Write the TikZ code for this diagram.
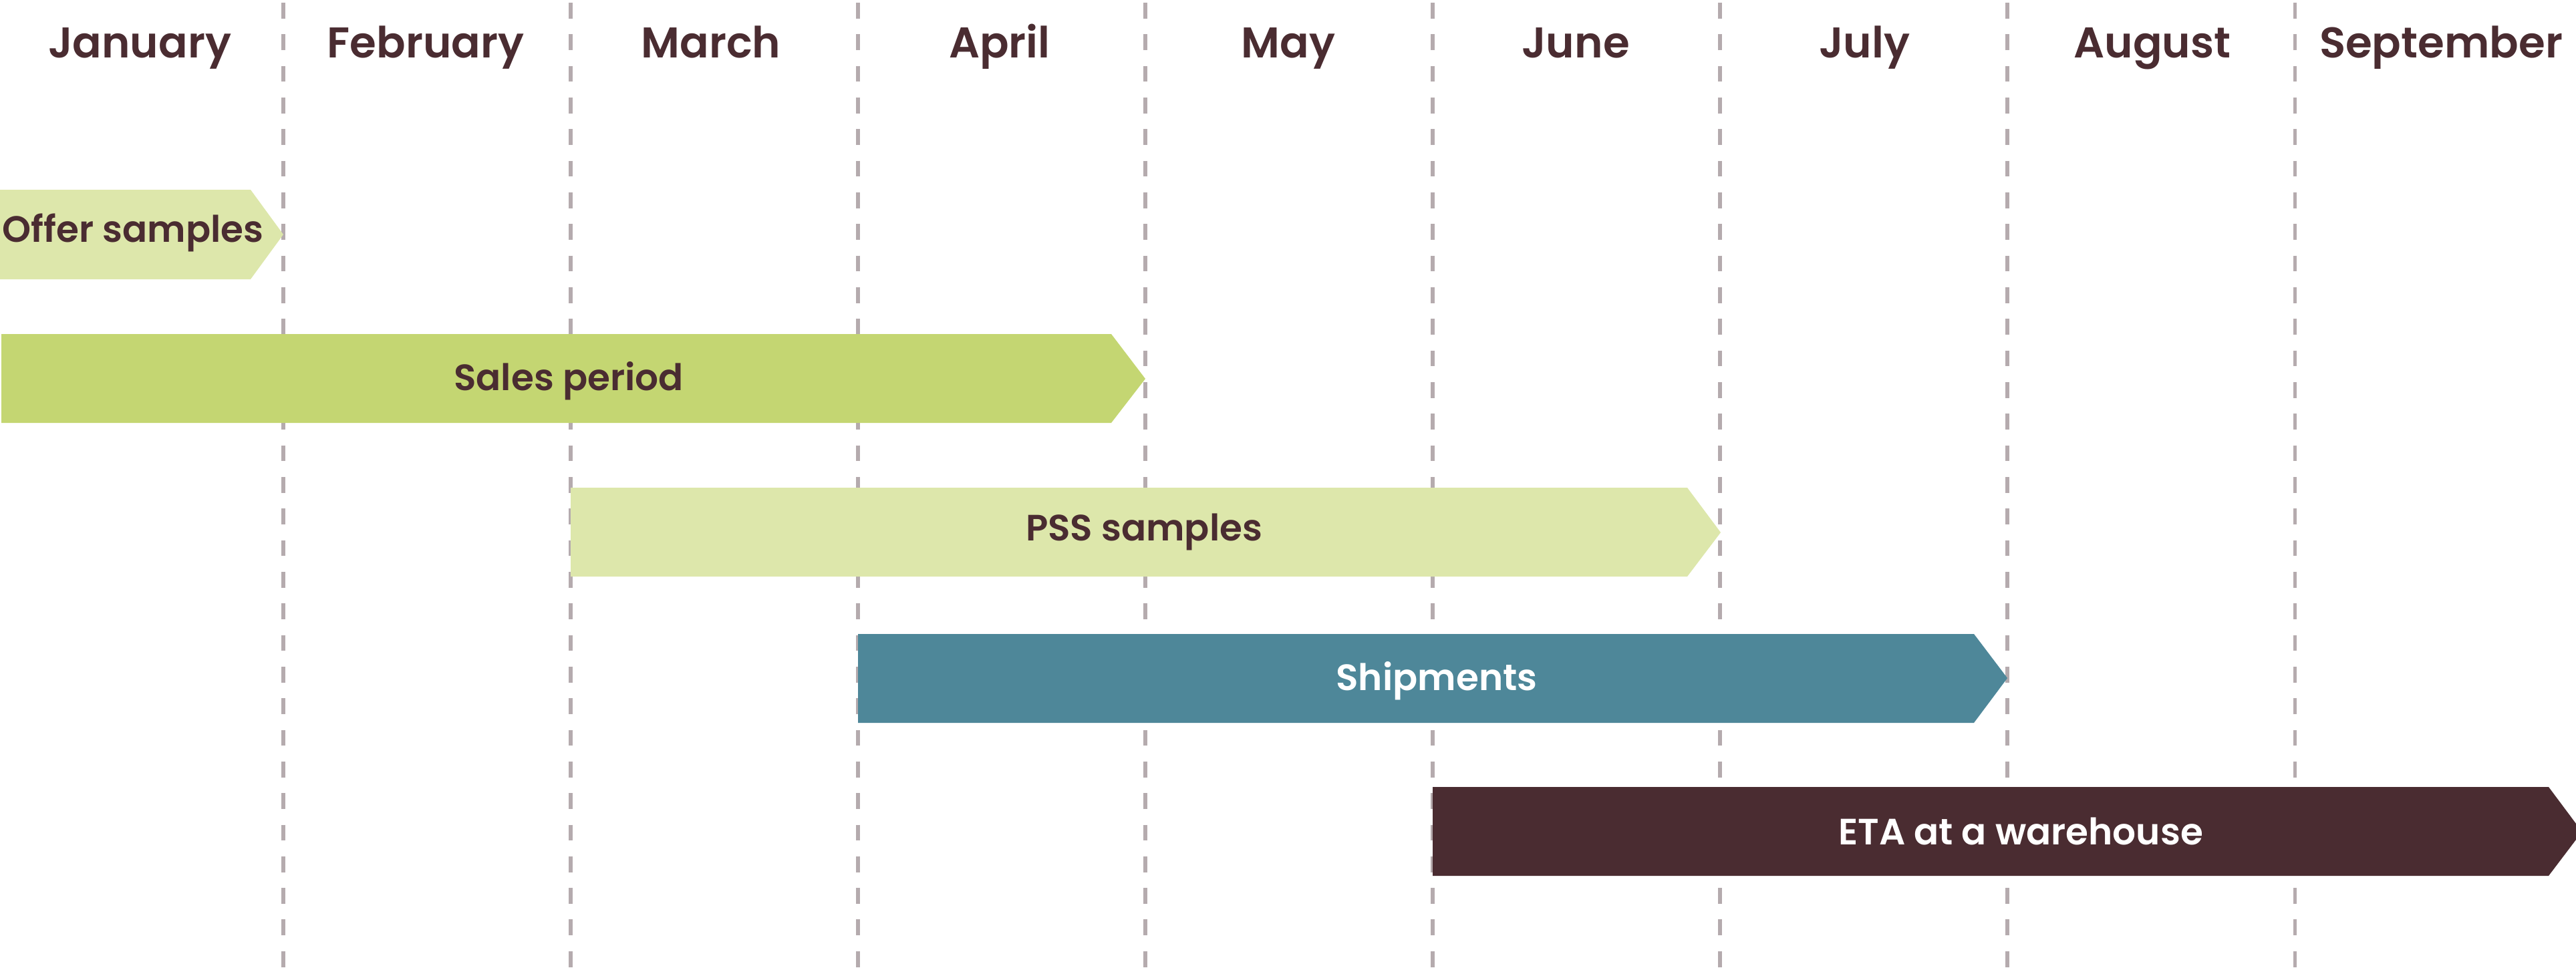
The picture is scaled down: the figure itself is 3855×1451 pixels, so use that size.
\documentclass[tikz,border=0pt]{standalone}
\usepackage{fontspec}
\setmainfont{Poppins}[BoldFont={Poppins SemiBold}]
\usepackage{tikz}
\definecolor{catVino}{HTML}{4A2C31}
\definecolor{catLimaPalido}{HTML}{DDE7AB}
\definecolor{catLima}{HTML}{C4D672}
\definecolor{catPetroleo}{HTML}{4E8799}
\definecolor{catMalva}{HTML}{B5ABAE}
\colorlet{colTexto}{catVino}
\colorlet{colMuestras}{catLimaPalido}
\colorlet{colVentas}{catLima}
\colorlet{colEnvios}{catPetroleo}
\colorlet{colLlegada}{catVino}
\colorlet{colRejilla}{catMalva}

\begin{document}
\begin{tikzpicture}[x=0.01cm, y=-0.01cm, font=\bfseries,
        mes/.style={colTexto, font=\fontsize{18.3}{21}\selectfont\bfseries, anchor=base, inner sep=0pt},
        etiqueta/.style={font=\fontsize{15.6}{18}\selectfont\bfseries, anchor=base, inner sep=0pt},
        rejilla/.style={colRejilla, line width=1.45pt, dash pattern=on 0.237cm off 0.236cm}]
        \useasboundingbox (0, 0) rectangle (3855, 1451);

        % Rejilla de meses
        \draw[rejilla] (424, 4) -- (424, 1451);
        \draw[rejilla] (854, 4) -- (854, 1451);
        \draw[rejilla] (1284, 4) -- (1284, 1451);
        \draw[rejilla] (1714, 4) -- (1714, 1451);
        \draw[rejilla] (2144, 4) -- (2144, 1451);
        \draw[rejilla] (2574, 4) -- (2574, 1451);
        \draw[rejilla] (3004, 4) -- (3004, 1451);
        \draw[rejilla] (3434, 4) -- (3434, 1451);

        % Meses
        \node[mes] (ene) at (209, 86) {January};
        \node[mes] (feb) at (637, 86) {February};
        \node[mes] (mar) at (1064, 86) {March};
        \node[mes] (abr) at (1496, 86) {April};
        \node[mes] (may) at (1928, 86) {May};
        \node[mes] (jun) at (2358, 86) {June};
        \node[mes] (jul) at (2790, 86) {July};
        \node[mes] (ago) at (3221, 86) {August};
        \node[mes] (sep) at (3653, 86) {September};

        % Offer samples
        \fill[colMuestras] (0, 284) -- (375, 284) -- (424, 351) -- (375, 418) -- (0, 418) -- cycle;
        \node[etiqueta, colTexto, anchor=base west] (oferta) at (3, 362) {Offer samples};

        % Sales period
        \fill[colVentas] (2, 500) -- (1663, 500) -- (1714, 567) -- (1663, 633) -- (2, 633) -- cycle;
        \node[etiqueta, colTexto] (ventas) at (851, 584) {Sales period};

        % PSS samples
        \fill[colMuestras] (854, 730) -- (2525, 730) -- (2575, 797) -- (2525, 863) -- (854, 863) -- cycle;
        \node[etiqueta, colTexto] (pss) at (1712, 809) {PSS samples};

        % Shipments
        \fill[colEnvios] (1284, 949) -- (2954, 949) -- (3004, 1015) -- (2954, 1082) -- (1284, 1082) -- cycle;
        \node[etiqueta, white] (envios) at (2150, 1033) {Shipments};

        % ETA at a warehouse
        \fill[colLlegada] (2144, 1178) -- (3814, 1178) -- (3864, 1245) -- (3814, 1311) -- (2144, 1311) -- cycle;
        \node[etiqueta, white] (llegada) at (3024, 1264) {ETA at a warehouse};
    \end{tikzpicture}
\end{document}
